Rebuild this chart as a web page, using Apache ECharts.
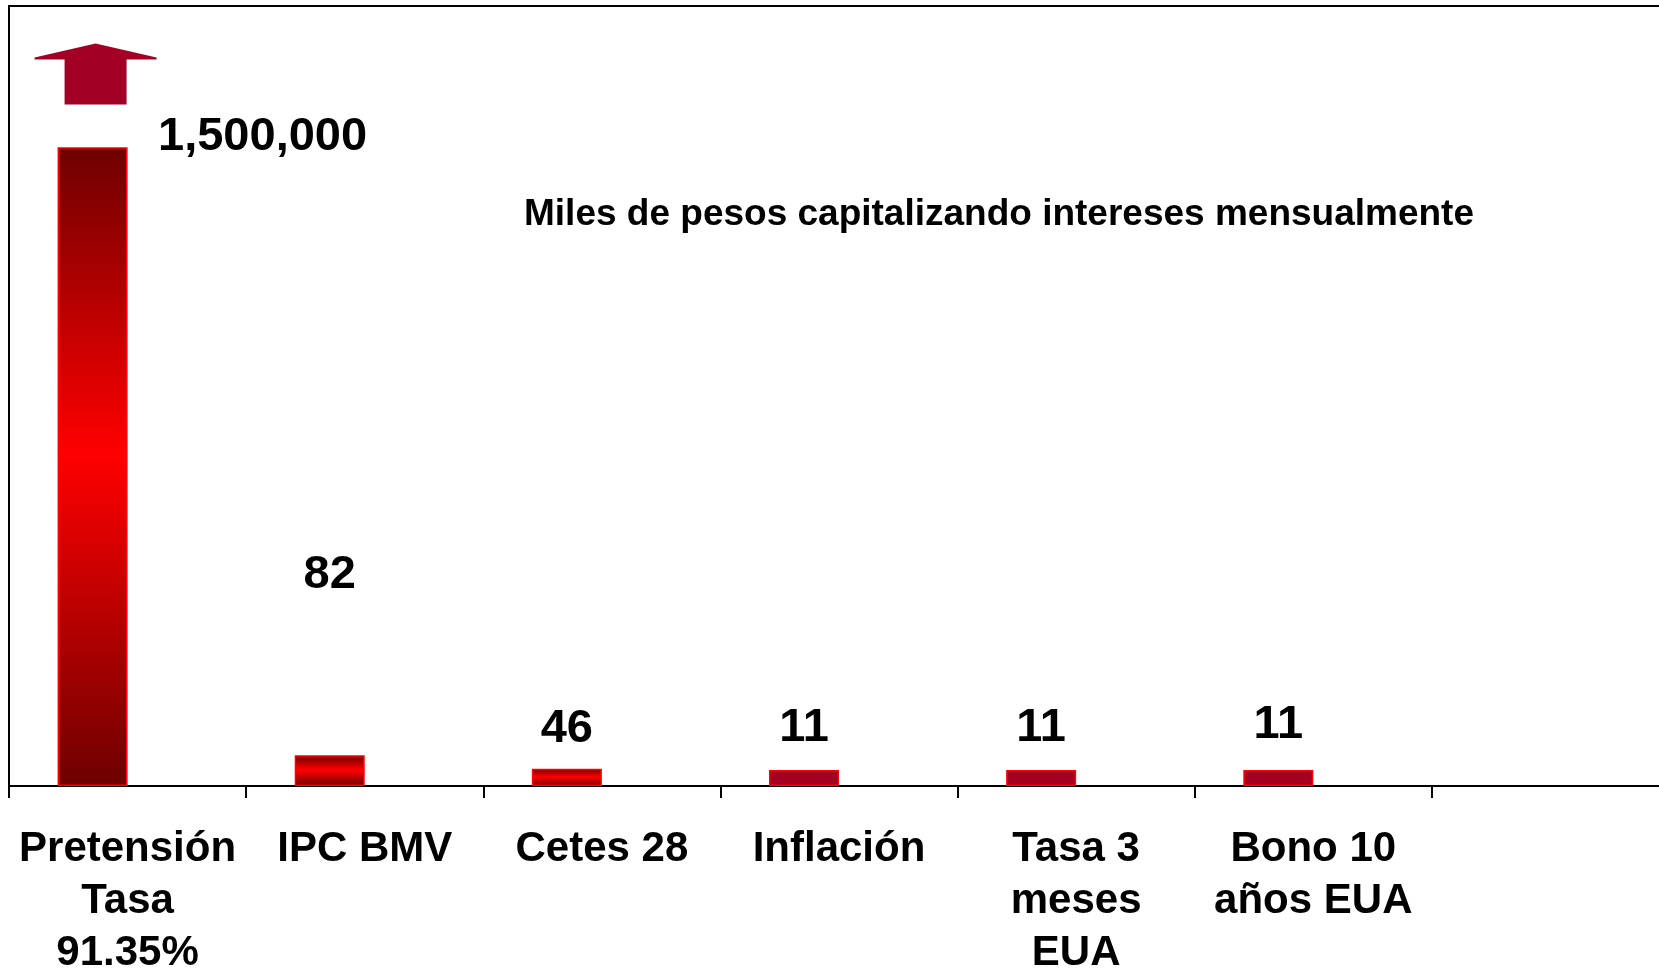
<!DOCTYPE html>
<html>
<head>
<meta charset="utf-8">
<script src="https://cdn.jsdelivr.net/npm/echarts@6/dist/echarts.min.js"></script>
<style>
    html, body { margin: 0; padding: 0; background: #fff; }
    #grafica { width: 1659px; height: 969px; }
</style>
</head>
<body>
<div id="grafica"></div>
<script type="text/javascript">
    var categorias = ['Pretensión\nTasa\n91.35%', 'IPC BMV', 'Cetes 28', 'Inflación', 'Tasa 3\nmeses\nEUA', 'Bono 10\naños EUA', ''];
    var valores = [1500000, 82, 46, 11, 11, 11, null];
    var titulo = 'Miles de pesos capitalizando intereses mensualmente';
    var topeEje = 1700; // eje cortado, la primera barra se sale por arriba

    // las etiquetas estaban movidas a mano en la lamina original
    var desplazaEtiqueta = [[170, 18], [0, -152], [0, -11], [0, -13], [0, -13], [0, -16], [0, 0]];

    var fuente = "'Liberation Sans', Arial, sans-serif";
    var degradado = new echarts.graphic.LinearGradient(0, 0, 0, 1, [
        {offset: 0, color: '#6E0000'},
        {offset: 0.48, color: '#FF0000'},
        {offset: 1, color: '#6E0000'}
    ]);

    var datos = valores.map(function (v, i) {
        return {
            value: v,
            itemStyle: {color: (v !== null && v < 20) ? '#A30022' : degradado},
            label: {offset: desplazaEtiqueta[i]}
        };
    });

    var myChart = echarts.init(document.getElementById('grafica'));
    var option = {
        animation: false,
        backgroundColor: '#fff',
        title: {
            text: titulo,
            left: 524,
            top: 196,
            padding: 0,
            textStyle: {fontSize: 37, lineHeight: 37, fontWeight: 'bold', color: '#000', fontFamily: fuente}
        },
        grid: [
            {left: 9, right: -10, top: 6, bottom: 183, show: true, borderColor: '#000', borderWidth: 2,
                backgroundColor: 'transparent', outerBoundsMode: 'none'},
            {left: 9, right: -10, top: 148, bottom: 183, outerBoundsMode: 'none'}
        ],
        xAxis: [
            {gridIndex: 0, type: 'category', data: categorias, show: false},
            {
                gridIndex: 1,
                type: 'category',
                data: categorias,
                axisLine: {lineStyle: {color: '#000', width: 2}},
                axisTick: {show: true, length: 12, lineStyle: {color: '#000', width: 2}},
                axisLabel: {
                    interval: 0,
                    margin: 37,
                    fontSize: 42,
                    lineHeight: 52,
                    fontWeight: 'bold',
                    color: '#000',
                    fontFamily: fuente
                }
            }
        ],
        yAxis: [
            {gridIndex: 0, type: 'value', show: false, splitLine: {show: false}},
            {gridIndex: 1, type: 'value', min: 0, max: topeEje, show: false, splitLine: {show: false}}
        ],
        series: [
            {
                name: 'Miles de pesos',
                type: 'bar',
                xAxisIndex: 1,
                yAxisIndex: 1,
                data: datos,
                barWidth: 70,
                barGap: '0%',
                barMinHeight: 16,
                itemStyle: {borderColor: '#FF0000', borderWidth: 1.5},
                label: {
                    show: true,
                    position: 'top',
                    distance: 5,
                    fontSize: 47,
                    lineHeight: 47,
                    fontWeight: 'bold',
                    color: '#000',
                    fontFamily: fuente,
                    formatter: function (p) {
                        return p.value == null ? '' : p.value.toLocaleString('en-US');
                    }
                },
                markPoint: {
                    silent: true,
                    symbol: 'path://M61,0 L122,14 L122,16 L92,16 L92,61 L30,61 L30,16 L0,16 L0,14 Z',
                    symbolSize: [122, 61],
                    symbolOffset: [3, -74],
                    itemStyle: {color: '#A30026'},
                    label: {show: false},
                    data: [{coord: [0, topeEje]}]
                }
            },
            {
                // serie vacia, deja las barras corridas a la izquierda como en el original
                name: '',
                type: 'bar',
                xAxisIndex: 1,
                yAxisIndex: 1,
                data: [],
                barWidth: 70
            }
        ]
    };
    myChart.setOption(option);
</script>
</body>
</html>
